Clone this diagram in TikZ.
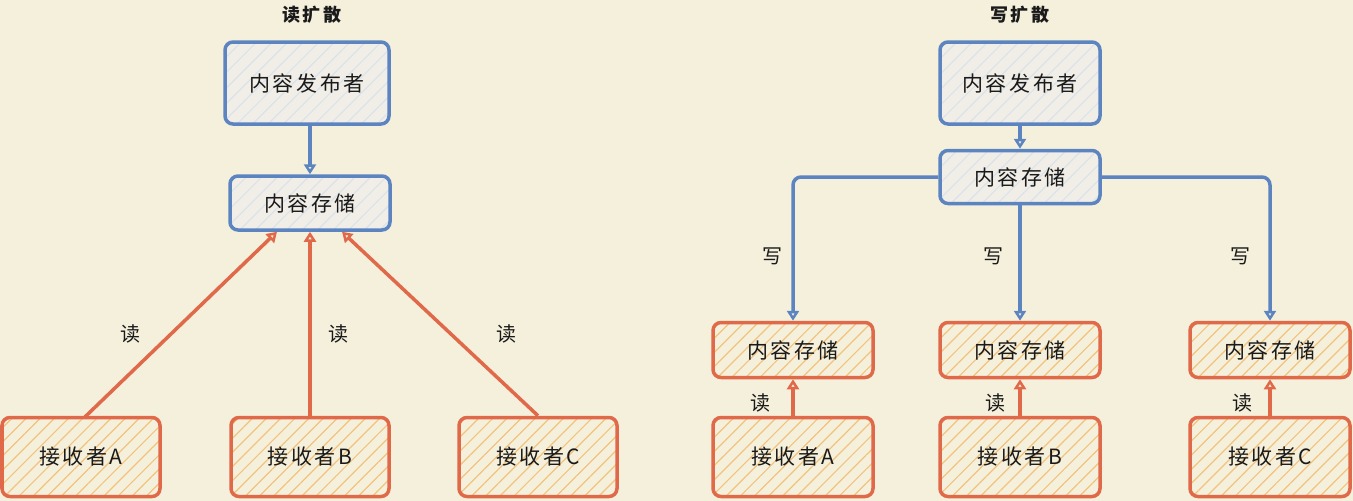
\documentclass[tikz,border=0pt]{standalone}
\usepackage{fontspec}
\setmainfont{Noto Sans CJK SC}[LetterSpace=12]
\usetikzlibrary{arrows.meta,patterns.meta}
\definecolor{paper}{HTML}{F5F0DC}
\definecolor{penblue}{HTML}{5B84C0}
\definecolor{penred}{HTML}{E0694A}
\definecolor{hatchred}{HTML}{F2C37C}
\definecolor{hatchblue}{HTML}{D9E1EC}
\definecolor{boxblue}{HTML}{F0EEE6}
\definecolor{ink}{HTML}{1A1A1A}
\tikzset{
  box/.style={line width=3.5pt, rounded corners=8pt, text=ink,
    font=\fontsize{21}{24}\selectfont},
  bluebox/.style={box, draw=penblue, preaction={fill=boxblue},
    pattern={Lines[angle=45,distance=11pt,line width=1pt]}, pattern color=hatchblue},
  redbox/.style={box, draw=penred, preaction={fill=paper},
    pattern={Lines[angle=45,distance=10pt,line width=1.2pt]}, pattern color=hatchred},
  bluearrow/.style={draw=penblue, line width=3.5pt, rounded corners=8pt,
    -{Triangle[open,length=10pt,width=12pt,line width=2.5pt]}},
  redarrow/.style={draw=penred, line width=3.5pt,
    -{Triangle[open,length=10pt,width=12pt,line width=2.5pt]}},
  lbl/.style={text=ink, font=\fontsize{20}{24}\selectfont},
  ttl/.style={text=ink, font=\fontsize{18}{20}\selectfont\bfseries}
}
\begin{document}
\begin{tikzpicture}[x=1pt,y=-1pt]
  \fill[paper] (0,0) rectangle (1353,501);
  % read fan-out
  \node[ttl] (t1) at (312,15) {读扩散};
  \node[bluebox,minimum width=164,minimum height=82] (pub) at (307,83) {内容发布者};
  \node[bluebox,minimum width=160,minimum height=54] (st) at (310,203) {内容存储};
  \node[redbox,minimum width=158,minimum height=79] (ra) at (81,457) {接收者A};
  \node[redbox,minimum width=158,minimum height=79] (rb) at (310,457) {接收者B};
  \node[redbox,minimum width=158,minimum height=79] (rc) at (538,457) {接收者C};
  \node[lbl] (la) at (130,334) {读};
  \node[lbl] (lb) at (338,334) {读};
  \node[lbl] (lc) at (506,334) {读};
  \begin{scope}
    \draw[bluearrow] (st.north |- pub.south) -- (st);
    \draw[redarrow] ([xshift=4]ra.north) -- ([xshift=-33]st.south);
    \draw[redarrow] (rb) -- (st);
    \draw[redarrow] (rc.north) -- ([xshift=32]st.south);
  \end{scope}
  % write fan-out
  \node[ttl] (t2) at (1020,15) {写扩散};
  \node[bluebox,minimum width=160,minimum height=82] (pub2) at (1020,83) {内容发布者};
  \node[bluebox,minimum width=160,minimum height=53] (st2) at (1020,177) {内容存储};
  \node[redbox,minimum width=160,minimum height=55] (sa) at (793,350) {内容存储};
  \node[redbox,minimum width=160,minimum height=55] (sb) at (1020,350) {内容存储};
  \node[redbox,minimum width=160,minimum height=55] (sc) at (1270,350) {内容存储};
  \node[redbox,minimum width=160,minimum height=79] (qa) at (793,457) {接收者A};
  \node[redbox,minimum width=160,minimum height=79] (qb) at (1020,457) {接收者B};
  \node[redbox,minimum width=160,minimum height=79] (qc) at (1270,457) {接收者C};
  \node[lbl] (wa) at (772,256) {写};
  \node[lbl] (wb) at (993,256) {写};
  \node[lbl] (wc) at (1240,256) {写};
  \node[lbl] (ka) at (760,403) {读};
  \node[lbl] (kb) at (995,403) {读};
  \node[lbl] (kc) at (1242,403) {读};
  \begin{scope}
    \draw[bluearrow] (pub2) -- (st2);
    \draw[bluearrow] (st2.west) -| (sa.north);
    \draw[bluearrow] (st2) -- (sb);
    \draw[bluearrow] (st2.east) -| (sc.north);
    \draw[redarrow] (qa) -- (sa);
    \draw[redarrow] (qb) -- (sb);
    \draw[redarrow] (qc) -- (sc);
  \end{scope}
\end{tikzpicture}
\end{document}
